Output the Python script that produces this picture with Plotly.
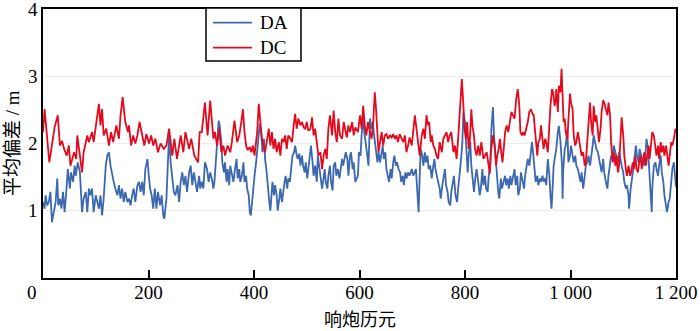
import plotly.graph_objects as go

# ---- data ----
dc_epoch = [0,3,12,17,22,28,32,36,40,45,49,52,59,63,65,70,74,77,84,87,93,96,101,106,109,112,115,120,125,129,133,139,144,147,151,156,161,163,167,171,175,179,183,188,192,196,201,205,209,213,218,223,229,234,239,245,249,254,261,266,270,277,281,287,294,297,
            301,307,312,317,320,323,326,330,334,338,342,345,350,355,358,363,368,372,376,379,382,385,388,392,395,398,401,404,406,409,412,415,418,421,424,428,431,434,437,440,443,447,450,453,456,459,462,465,469,472,476,478,481,484,488,491,494,497,500,503,507,510,513,516,519,522,526,529,532,535,538,541,544,548,551,554,557,560,563,567,570,573,576,579,582,586,589,592,
            597,601,604,607,610,613,616,620,623,626,629,631,634,636,639,642,645,648,651,654,658,661,664,667,670,673,676,680,683,686,689,692,695,699,702,705,708,711,714,718,721,724,727,730,732,735,737,740,743,746,749,752,756,759,762,765,768,771,774,778,781,784,787,789,792,794,797,799,802,804,807,809,812,814,817,819,822,825,828,831,835,838,841,844,847,849,851,853,856,859,861,864,866,869,871,874,876,879,882,885,888,891,
            894,897,900,903,905,908,910,913,916,919,922,925,929,930,933,935,937,939,942,944,947,949,952,954,957,960,962,965,967,970,972,973,976,978,981,983,985,987,989,991,994,996,999,1001,1004,1006,1009,1011,1014,1016,1019,1021,1024,1027,1029,1032,1034,1037,1039,1042,1044,1047,1049,1052,1054,1057,1059,1062,1064,1067,1070,1072,1075,1077,1080,1082,1085,1087,1090,1092,1095,1097,1100,1102,1105,1107,1110,1113,1115,1118,1120,1123,1125,1128,1130,1133,1135,1138,1140,1143,1145,1148,1150,1153,1155,1158,1161,1163,1166,1168,1171,1173,1176,1178,1181,1183,1186,1188,1191,1193,1196,1199]
dc_value = [2.17,2.51,1.72,2.0,2.24,2.42,1.97,2.04,1.92,1.82,1.97,1.67,1.87,1.77,2.12,1.82,1.57,1.87,2.12,2.02,2.17,2.02,2.32,2.59,2.27,2.51,2.12,2.22,1.97,2.17,2.02,2.27,2.07,2.42,2.69,2.32,2.17,2.27,1.97,2.12,2.0,2.12,2.32,2.12,1.97,2.14,2.0,2.12,1.97,2.07,1.87,2.0,1.92,1.97,2.22,1.82,2.07,1.77,2.12,1.87,2.17,1.92,2.07,1.82,1.72,2.17,
            2.17,2.61,2.12,2.64,2.32,2.07,2.17,1.97,2.22,1.87,1.97,1.82,1.97,1.87,2.02,2.34,2.02,2.12,2.32,2.51,2.17,1.97,1.90,1.95,1.87,1.97,1.82,2.02,2.17,2.59,2.27,2.07,1.97,1.87,2.02,2.22,1.97,2.17,1.92,2.07,1.87,2.02,1.82,2.07,2.02,2.12,1.92,2.12,2.07,2.02,2.32,2.44,2.22,2.37,2.27,2.32,2.24,2.22,2.32,2.19,2.22,2.39,2.12,2.22,2.02,1.82,1.87,1.62,1.82,1.92,1.77,2.22,2.42,2.12,2.49,2.17,2.02,2.37,2.12,2.07,2.32,2.22,2.09,2.27,2.17,2.32,2.12,2.24,
            2.17,2.42,2.22,2.56,2.27,2.12,2.32,2.17,2.07,2.32,2.76,2.56,2.12,1.87,2.02,2.17,1.97,2.12,2.14,2.07,2.12,2.09,2.14,2.07,2.12,2.02,2.14,2.07,2.02,2.12,1.87,1.97,2.09,1.97,2.17,2.42,2.22,2.02,1.82,2.12,2.22,2.07,2.42,2.27,2.32,2.02,2.12,1.97,1.92,1.82,1.77,2.02,1.87,2.07,2.12,2.17,2.02,2.12,2.17,1.87,1.97,1.77,2.07,2.37,2.71,2.96,2.56,2.22,2.07,2.32,1.92,2.02,2.51,2.27,2.12,1.92,1.82,1.97,1.82,2.02,1.77,1.82,1.87,1.72,1.55,1.87,2.02,2.12,1.97,1.67,1.82,1.92,2.07,1.87,1.72,1.97,2.17,2.27,2.17,2.32,2.47,2.42,
            2.37,2.66,2.81,2.56,2.17,2.12,2.17,2.12,2.22,2.32,2.47,2.51,2.42,2.44,2.17,1.92,1.82,2.02,2.07,2.27,2.07,1.92,2.07,2.02,1.87,2.32,2.56,2.81,2.76,2.56,2.66,2.81,2.47,2.86,2.76,3.11,2.66,2.32,2.37,2.17,2.07,2.32,2.74,2.61,2.51,2.12,1.97,2.02,2.17,2.07,1.87,1.82,1.87,1.67,1.72,2.07,2.32,2.61,2.32,2.12,2.56,2.32,2.42,2.12,2.02,2.22,2.47,2.64,2.61,2.51,2.42,2.61,2.42,2.02,1.72,1.87,1.67,1.82,1.57,1.67,2.07,2.39,2.12,1.82,1.62,1.52,1.67,1.52,1.57,1.72,1.62,1.82,1.62,1.57,1.72,1.82,1.62,1.77,1.87,1.67,1.82,1.97,1.77,2.07,2.17,2.12,1.92,1.82,1.97,1.77,2.02,1.87,1.97,1.82,1.97,1.87,1.67,1.82,2.02,1.97,2.07,2.22]

da_epoch = [0,3,5,8,11,14,17,21,24,27,29,32,35,38,41,45,47,51,53,57,60,62,66,70,74,77,81,84,87,90,93,96,100,103,106,109,112,115,119,122,125,128,131,134,137,141,144,147,150,153,156,160,163,166,169,172,175,179,182,185,188,191,194,198,200,203,206,209,212,215,218,222,225,228,230,234,236,239,242,245,248,251,255,258,261,264,267,270,273,277,280,283,286,289,292,296,
            298,301,304,307,311,314,317,320,323,325,328,330,333,335,338,340,343,345,348,350,353,355,358,361,364,367,369,372,374,377,380,382,385,387,390,392,394,396,398,401,404,406,409,411,414,416,419,421,424,426,429,431,433,435,438,440,443,445,448,450,453,455,458,460,463,465,468,471,473,476,478,481,483,486,488,491,493,496,498,501,503,506,508,511,513,516,519,521,524,526,529,531,534,536,539,541,544,546,549,551,554,556,559,562,564,567,569,572,574,577,579,582,584,587,589,592,
            597,599,602,604,607,609,612,614,617,620,622,625,627,629,631,634,636,639,641,644,646,649,651,654,656,659,661,664,666,669,671,674,677,679,682,684,687,689,692,695,699,702,705,707,710,712,714,716,719,721,724,726,729,731,734,737,739,742,744,747,749,752,754,757,759,762,764,767,769,772,774,777,779,782,785,787,790,792,795,797,800,802,805,807,810,812,815,817,820,822,825,828,830,833,835,838,840,843,845,848,850,853,855,858,860,863,865,868,870,873,876,878,881,883,886,888,891,
            894,896,899,901,904,906,909,912,914,917,919,922,924,927,929,932,934,937,939,942,944,947,949,952,954,957,960,962,964,966,968,971,973,976,978,981,984,985,986,989,991,994,996,999,1001,1004,1006,1009,1011,1014,1016,1019,1021,1024,1027,1029,1032,1034,1037,1039,1042,1044,1047,1049,1052,1054,1057,1059,1062,1064,1067,1070,1072,1075,1077,1080,1082,1085,1087,1090,1092,1095,1097,1100,1102,1105,1107,1110,1111,1114,1116,1119,1121,1124,1126,1129,1131,1134,1137,1139,1142,1144,1147,1149,1152,1154,1155,1158,1161,1163,1166,1168,1171,1173,1176,1178,1181,1183,1186,1188,1191,1193,1196,1198,1200]
da_value = [1.13,1.03,1.23,1.08,1.13,1.28,0.83,0.98,1.13,1.48,1.08,1.18,1.03,1.28,0.98,1.38,1.62,1.33,1.57,1.43,1.67,1.52,1.72,1.57,0.98,1.18,1.28,0.98,1.33,1.23,1.33,0.98,1.23,1.13,1.03,1.23,0.93,1.18,1.67,1.82,1.87,1.67,1.52,1.43,1.33,1.23,1.38,1.18,1.33,1.13,1.28,1.13,1.18,1.08,1.23,1.33,1.13,1.38,1.43,1.28,1.43,1.23,1.62,1.77,1.57,1.33,1.23,1.03,1.33,1.03,1.28,1.08,1.23,0.93,0.88,1.18,1.57,2.12,1.72,1.52,1.28,1.23,1.38,1.13,1.43,1.57,1.38,1.52,1.28,1.57,1.67,1.38,1.57,1.43,1.28,1.52,
            1.33,1.43,1.33,1.72,1.62,1.43,1.57,1.48,1.33,1.43,1.82,2.07,2.34,2.27,2.02,1.72,1.57,1.72,1.43,1.62,1.38,1.67,1.52,1.43,1.62,1.77,1.48,1.62,1.43,1.52,1.72,1.43,1.52,1.33,1.23,0.98,0.93,1.13,1.33,1.52,1.72,1.87,2.1,2.3,2.12,1.87,2.07,1.77,1.57,1.33,1.13,1.0,1.28,1.43,1.23,1.38,1.23,1.0,1.18,1.33,1.13,1.28,1.43,1.52,1.33,1.48,1.43,1.67,1.82,1.87,1.97,1.82,1.77,1.85,1.67,1.82,1.67,1.57,1.72,1.48,1.62,1.82,1.97,1.72,1.52,1.67,1.43,1.82,1.62,1.52,1.33,1.43,1.62,1.43,1.33,1.52,1.67,1.43,1.30,1.67,1.72,1.52,1.62,1.48,1.62,1.77,1.67,1.82,1.87,1.77,1.52,1.82,1.87,1.62,1.72,1.43,
            1.52,1.87,1.82,2.12,2.42,2.17,2.02,1.87,1.67,2.37,2.22,2.32,2.17,2.02,1.92,1.72,1.87,1.72,1.82,1.97,1.77,1.87,1.62,1.52,1.43,1.62,1.48,1.72,1.82,1.67,1.72,1.62,1.57,1.43,1.52,1.38,1.57,1.48,1.57,1.52,1.62,1.52,1.57,1.62,1.23,0.98,1.48,1.92,1.82,1.67,1.87,1.72,1.82,1.62,1.67,1.48,1.62,1.77,1.62,1.48,1.43,1.33,1.18,1.38,1.48,1.62,1.38,1.28,1.13,1.08,1.28,1.43,1.52,1.23,1.13,1.33,1.52,1.72,2.02,2.46,2.32,1.92,1.57,1.82,2.02,1.67,1.38,1.28,1.52,1.62,1.43,1.23,1.33,1.62,1.38,1.52,1.33,1.28,1.52,1.67,2.22,2.54,2.12,1.77,1.48,1.28,1.18,1.48,1.33,1.43,1.52,1.38,1.48,1.33,1.52,1.38,1.48,
            1.62,1.38,1.52,1.23,1.33,1.57,1.43,1.33,1.52,1.72,1.77,1.67,1.82,2.02,1.87,1.62,1.43,1.52,1.38,1.48,1.43,1.52,1.43,1.48,1.38,1.77,1.52,1.23,1.03,1.33,1.67,1.82,1.92,2.17,2.26,2.02,1.67,1.18,1.57,1.92,1.97,2.21,1.72,1.82,1.97,1.82,1.72,1.82,1.67,1.62,1.52,1.43,1.57,1.33,1.52,1.67,1.72,1.82,1.67,1.77,1.97,2.12,2.02,1.92,1.87,1.77,1.67,1.57,1.77,1.57,1.43,1.33,1.52,1.67,1.82,1.77,1.97,1.87,1.82,1.72,1.87,1.72,1.67,1.57,1.43,1.33,1.38,1.23,1.03,1.33,1.43,1.62,1.77,1.97,1.82,1.72,1.92,1.82,1.72,1.67,1.82,2.07,1.92,1.57,1.23,0.98,1.33,1.67,1.72,1.62,1.52,1.67,1.82,1.57,1.43,1.23,1.08,0.98,1.13,1.18,1.43,1.62,1.72,1.57,1.35]

series_names = ["DA", "DC"]
series_colors = ["#3b68ae", "#e30a1e"]

x_tickvals = [0, 200, 400, 600, 800, 1000, 1200]
x_ticktext = ["", "200", "400", "600", "800", "1 000", "1 200"]
y_tickvals = [1, 2, 3, 4]
y_ticktext = ["1", "2", "3", "4"]

FONT = "Liberation Serif, 'Times New Roman', 'Noto Sans CJK SC', serif"
CJK = "'Noto Sans CJK SC', Liberation Serif, serif"

# plot area in pixels: left 43, right 676, top 9, bottom 278
L, R, T, B = 43, 676, 9, 278
def px(xp):
    return (xp - L) / (R - L)
def py(yp):
    return (B - yp) / (B - T)

LW = 1.8

fig = go.Figure()
fig.add_trace(go.Scatter(x=da_epoch, y=da_value, mode="lines", name=series_names[0],
                         line=dict(color=series_colors[0], width=LW), showlegend=False))
fig.add_trace(go.Scatter(x=dc_epoch, y=dc_value, mode="lines", name=series_names[1],
                         line=dict(color=series_colors[1], width=LW), showlegend=False))

# legend box drawn to match the reference's compact legend
shapes = [
    dict(type="rect", xref="paper", yref="paper", x0=px(206), x1=px(301), y0=py(61), y1=py(8),
         line=dict(color="black", width=1.5), fillcolor="white", layer="above"),
]
annotations = []
for i, (nm, col) in enumerate(zip(series_names, series_colors)):
    yc = 22.7 + 25 * i
    shapes.append(dict(type="line", xref="paper", yref="paper", x0=px(213), x1=px(252),
                       y0=py(yc), y1=py(yc), line=dict(color=col, width=LW), layer="above"))
    annotations.append(dict(text=nm, xref="paper", yref="paper", x=px(258), y=py(yc),
                            xanchor="left", yanchor="middle", showarrow=False,
                            font=dict(family=FONT, size=19, color="black")))

annotations += [
    dict(text="0", xref="paper", yref="paper", x=px(32), y=py(292),
         xanchor="center", yanchor="middle", showarrow=False,
         font=dict(family=FONT, size=19, color="black")),
    dict(text="响炮历元", xref="paper", yref="paper", x=0.5, y=py(318),
         xanchor="center", yanchor="middle", showarrow=False,
         font=dict(family=CJK, size=18, color="black")),
    dict(text="平均偏差 / m", xref="paper", yref="paper", x=px(12), y=py(143),
         xanchor="center", yanchor="middle", showarrow=False, textangle=-90,
         font=dict(family=FONT, size=19, color="black")),
]

fig.update_layout(
    width=700, height=331,
    margin=dict(l=L, r=700 - R, t=T, b=331 - B, autoexpand=False),
    paper_bgcolor="white", plot_bgcolor="white",
    font=dict(family=FONT, size=19, color="black"),
    showlegend=False,
    xaxis=dict(range=[0, 1200], tickvals=x_tickvals, ticktext=x_ticktext,
               ticks="inside", ticklen=8, tickwidth=1.5, tickcolor="black",
               showline=True, mirror=True, linecolor="black", linewidth=1.5,
               showgrid=False, zeroline=False, automargin=False,
               ticklabeloverflow="allow", ticklabelstandoff=-4,
               tickfont=dict(family=FONT, size=19, color="black")),
    yaxis=dict(range=[0, 4], tickvals=y_tickvals, ticktext=y_ticktext,
               ticks="", showline=True, mirror=True, linecolor="black", linewidth=1.5,
               showgrid=True, gridcolor="#ededed", gridwidth=1, zeroline=False,
               automargin=False, ticklabeloverflow="allow",
               tickfont=dict(family=FONT, size=19, color="black")),
    shapes=shapes,
    annotations=annotations,
)

fig.write_html("out.html", config={"displayModeBar": False},
               post_script="document.body.style.margin='0';")
